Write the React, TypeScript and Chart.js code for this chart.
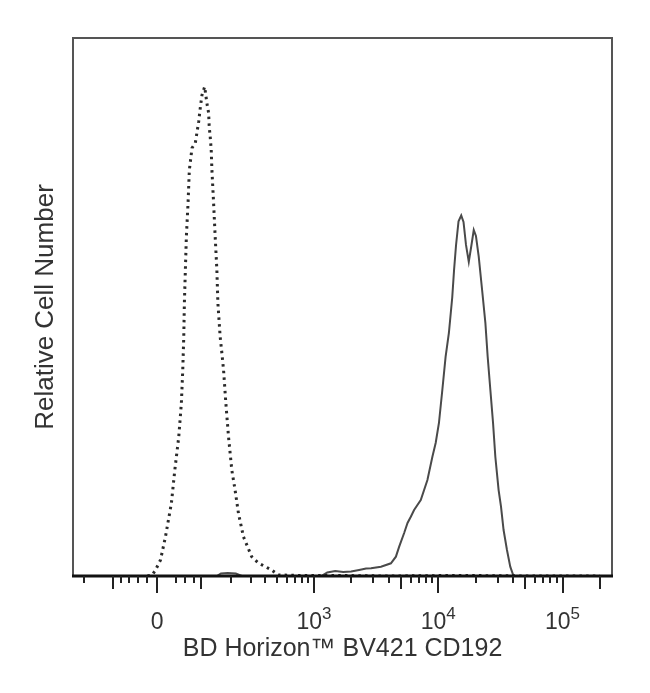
import React, { useEffect, useRef } from 'react';
import { Chart, registerables } from 'chart.js';

Chart.register(...registerables);

// Biexponential-style display: arcsinh with this cofactor
const COFACTOR = 110;
const X_MIN_RAW = -250;
const X_MAX_RAW = 250000;

// Isotype control (dashed): fluorescence intensity / relative cell count
const controlIntensity = [
  -20, -10, -3.4, 6.7, 16.9, 29.3, 36.5, 45.1, 50.9, 54.0, 56.3, 57.7, 60.0, 62.3, 66.3, 69.4,
  75.9, 84.2, 93.0, 97.3, 102.0, 109.6, 116.2, 121.3, 123.1, 126.2, 129.3, 131.5, 136.9, 142.1,
  147.8, 151.3, 159.3, 165.5, 171.8, 180.6, 191.3, 205.1, 219.6, 235.4, 260.4, 306.8, 349.5,
  450.7, 511.5, 800, 1500, 4000, 15000, 60000, 200000,
];
const controlCount = [
  0, 0.19, 1.12, 2.97, 7.3, 13.57, 19.7, 25.89, 32.16, 38.29, 44.48, 50.74, 56.88, 63.07, 69.33, 75.46,
  79.55, 80.48, 84.44, 86.99, 89.4, 90.94, 87.86, 86.06, 83.51, 81.6, 79.18, 75.46, 69.33, 63.07,
  56.88, 50.74, 44.48, 41.45, 38.29, 32.16, 25.89, 19.7, 15.98, 11.65, 7.3, 3.59, 2.42,
  1.12, 0.19, 0.1, 0.1, 0, 0.1, 0, 0,
];

// CD192 stained (solid)
const stainedIntensity = [
  -100, 148, 162, 188, 223, 252, 1146, 1280, 1484, 1720, 1994, 2311, 2630, 2884, 3467, 4168,
  4570, 4857, 5325, 5669, 6024, 6401, 7242, 8193, 8984, 9546, 10144, 10799, 11477, 12195,
  12983, 13419, 13924, 14579, 15323, 15986, 16739, 17625, 18523, 19325, 20124, 21189, 22559,
  23971, 25009, 26283, 27625, 28818, 30625, 32010, 33578, 35750, 37989, 40365, 200000,
];
const stainedCount = [
  0, 0, 0.46, 0.56, 0.46, 0, 0, 0.65, 0.93, 0.74, 0.84, 1.12, 1.39, 1.43, 1.73, 2.36,
  3.59, 5.45, 7.99, 9.85, 11.02, 12.27, 14.13, 17.84, 22.17, 24.72, 28.44, 34.57, 40.76, 45.17,
  51.86, 56.88, 61.53, 65.94, 67.01, 65.8, 61.53, 58.4, 61.53, 64.31, 63.2, 59.35, 53.16,
  47.03, 40.76, 34.57, 28.44, 22.17, 15.98, 12.88, 8.55, 4.83, 1.73, 0, 0,
];

// Axis ticks (raw intensity); labels: base + exponent
const majorTicks = [0, 1000, 10000, 100000];
const majorBase = ['0', '10', '10', '10'];
const majorExp = ['', '3', '4', '5'];
const mediumTicks = [-100, 100, 5000, 50000, 200000];
const minorTicks = [
  -200, -80, -60, -40, -20, 40, 60, 80,
  200, 300, 400, 500, 600, 700, 800, 900,
  2000, 3000, 4000, 6000, 7000, 8000, 9000,
  20000, 30000, 40000, 60000, 70000, 80000, 90000,
];

const toAxis = (v: number) => Math.asinh(v / COFACTOR);

const FONT = '"Liberation Sans", Arial, Helvetica, sans-serif';
const TEXT = '#333';

const framePlugin = {
  id: 'frameAndTicks',
  afterDatasetsDraw(chart: any) {
    const { ctx, chartArea } = chart;
    const { left, top, right, bottom } = chartArea;
    const x = chart.scales.x;
    ctx.save();
    ctx.strokeStyle = '#555';
    ctx.lineWidth = 2;
    ctx.strokeRect(left, top, right - left, bottom - top);
    ctx.strokeStyle = '#111';
    ctx.lineWidth = 3;
    ctx.beginPath();
    ctx.moveTo(left - 1, bottom);
    ctx.lineTo(right + 1, bottom);
    ctx.stroke();
    ctx.lineWidth = 2;
    ctx.strokeStyle = '#222';
    const draw = (vals: number[], len: number) => {
      vals.forEach((v) => {
        const px = Math.round(x.getPixelForValue(toAxis(v)));
        if (px < left || px > right) return;
        ctx.beginPath();
        ctx.moveTo(px, bottom);
        ctx.lineTo(px, bottom + len);
        ctx.stroke();
      });
    };
    draw(minorTicks, 7);
    draw(mediumTicks, 13);
    draw(majorTicks, 17);

    // Tick labels with real superscript exponents
    const baseFont = `23px ${FONT}`;
    const expFont = `17px ${FONT}`;
    const baseY = bottom + 53;
    const expY = baseY - 10;
    ctx.fillStyle = TEXT;
    ctx.textBaseline = 'alphabetic';
    ctx.textAlign = 'left';
    majorTicks.forEach((v, i) => {
      const px = x.getPixelForValue(toAxis(v));
      ctx.font = baseFont;
      const wb = ctx.measureText(majorBase[i]).width;
      ctx.font = expFont;
      const we = majorExp[i] ? ctx.measureText(majorExp[i]).width : 0;
      const start = px - (wb + we) / 2;
      ctx.font = baseFont;
      ctx.fillText(majorBase[i], start, baseY);
      if (majorExp[i]) {
        ctx.font = expFont;
        ctx.fillText(majorExp[i], start + wb, expY);
      }
    });
    ctx.restore();
  },
};

export default function App() {
  const ref = useRef<HTMLCanvasElement | null>(null);
  useEffect(() => {
    if (!ref.current) return;
    const chart = new Chart(ref.current, {
      type: 'line',
      data: {
        datasets: [
          {
            label: 'Isotype control',
            data: controlIntensity.map((v, i) => ({ x: toAxis(v), y: controlCount[i] })),
            borderColor: '#2a2a2a',
            borderWidth: 3,
            borderDash: [2.5, 4.2],
            pointRadius: 0,
            tension: 0,
            fill: false,
          },
          {
            label: 'CD192',
            data: stainedIntensity.map((v, i) => ({ x: toAxis(v), y: stainedCount[i] })),
            borderColor: '#4a4a4a',
            borderWidth: 2,
            pointRadius: 0,
            tension: 0,
            fill: false,
          },
        ],
      },
      options: {
        animation: false,
        responsive: false,
        devicePixelRatio: 1,
        layout: { padding: { top: 30, right: 30, left: 0, bottom: 0 } },
        plugins: { legend: { display: false }, tooltip: { enabled: false } },
        scales: {
          x: {
            type: 'linear',
            min: toAxis(X_MIN_RAW),
            max: toAxis(X_MAX_RAW),
            grid: { display: false, drawTicks: false },
            border: { display: false },
            afterBuildTicks: (scale: any) => {
              scale.ticks = majorTicks.map((v) => ({ value: toAxis(v) }));
            },
            afterFit: (scale: any) => {
              scale.height = 109;
            },
            ticks: { display: false },
            title: {
              display: true,
              text: 'BD Horizon™ BV421 CD192',
              color: TEXT,
              font: { family: FONT, size: 25 },
              padding: { top: 0, bottom: 21 },
            },
          },
          y: {
            min: 0,
            max: 100,
            grid: { display: false, drawTicks: false },
            border: { display: false },
            ticks: { display: false },
            afterFit: (scale: any) => {
              scale.width = 65;
            },
            title: {
              display: true,
              text: 'Relative Cell Number',
              color: TEXT,
              font: { family: FONT, size: 26 },
              padding: { top: 22, bottom: 0 },
            },
          },
        },
      },
      plugins: [framePlugin],
    });
    return () => chart.destroy();
  }, []);
  return (
    <div style={{ width: 634, height: 677 }}>
      <canvas ref={ref} width={634} height={677} />
    </div>
  );
}
